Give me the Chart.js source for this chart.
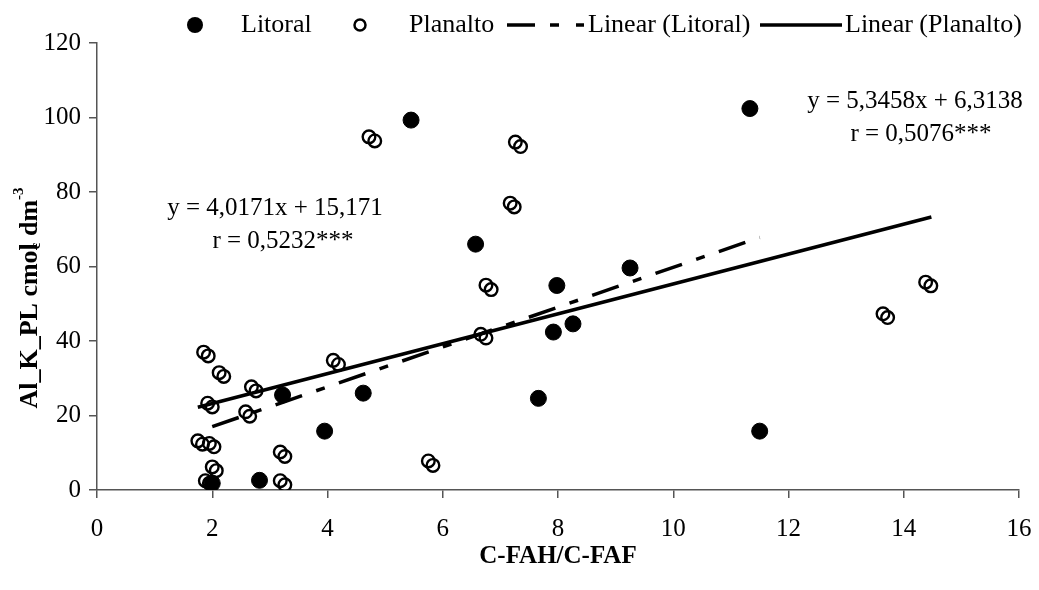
<!DOCTYPE html>
<html>
<head>
<meta charset="utf-8">
<script src="https://cdn.jsdelivr.net/npm/chart.js@4/dist/chart.umd.min.js"></script>
<style>
  html, body { margin: 0; padding: 0; background: #fff; }
  #wrap { width: 1039px; height: 590px; }
</style>
</head>
<body>
<div id="wrap"><canvas id="myChart" width="1039" height="590"></canvas></div>
<script>
// Litoral (filled points)
const litoralX = [2.0, 2.82, 3.22, 3.95, 4.62, 5.45, 6.57, 7.66, 7.92, 7.98, 8.26, 9.25, 11.33, 11.5];
const litoralY = [1.8, 2.6, 25.5, 15.8, 26, 99.3, 66, 24.6, 42.4, 54.9, 44.6, 59.6, 102.4, 15.8];

// Planalto (open points, they come in close pairs)
const planaltoX = [1.85, 1.93, 2.12, 2.2, 1.92, 2.0, 1.75, 1.83, 1.95, 2.03, 2.0, 2.07, 1.88, 1.95,
  2.58, 2.65, 2.68, 2.76, 3.18, 3.26, 3.18, 3.26, 4.1, 4.19, 4.72, 4.82, 5.75, 5.83,
  6.66, 6.75, 6.75, 6.84, 7.17, 7.24, 7.26, 7.35, 13.64, 13.72, 14.38, 14.47];
const planaltoY = [37, 36, 31.5, 30.5, 23.3, 22.3, 13.2, 12.3, 12.5, 11.6, 6.2, 5.2, 2.5, 1.8,
  21, 19.8, 27.7, 26.6, 10.2, 9, 2.5, 1.4, 34.8, 33.7, 94.8, 93.7, 7.8, 6.6,
  41.8, 40.8, 55, 53.8, 77, 76, 93.4, 92.2, 47.3, 46.3, 55.8, 54.8];

// trend line ends
const trendLitoralX = [2.0, 11.5];
const trendLitoralY = [17.0, 67.8];
const trendPlanaltoX = [1.75, 14.48];
const trendPlanaltoY = [22.2, 73.3];

const xTicks = [0, 2, 4, 6, 8, 10, 12, 14, 16];
const yTicks = [0, 20, 40, 60, 80, 100, 120];

const seriesNames = ['Litoral', 'Planalto', 'Linear (Litoral)', 'Linear (Planalto)'];
const eqLeft = ['y = 4,0171x + 15,171', 'r = 0,5232***'];
const eqRight = ['y = 5,3458x + 6,3138', 'r = 0,5076***'];

const pts = (xs, ys) => xs.map((x, i) => ({ x: x, y: ys[i] }));
const SERIF = '"Liberation Serif", "Times New Roman", serif';
const litDash = [28, 15, 9, 15];

// texts: legend, equations, y title
const extras = {
  id: 'extras',
  afterDraw(chart) {
    const ctx = chart.ctx;
    ctx.save();
    ctx.fillStyle = '#000';
    ctx.strokeStyle = '#000';
    ctx.textBaseline = 'middle';
    ctx.font = '26px ' + SERIF;

    // legend
    const ly = 25;
    ctx.beginPath(); ctx.arc(195, ly, 8, 0, Math.PI * 2); ctx.fill();
    ctx.textAlign = 'left';
    ctx.fillText(seriesNames[0], 241, ly);
    ctx.lineWidth = 2.5;
    ctx.beginPath(); ctx.arc(360, ly, 5.5, 0, Math.PI * 2); ctx.stroke();
    ctx.fillText(seriesNames[1], 409, ly);
    ctx.lineWidth = 3.5;
    ctx.setLineDash([28, 15, 9, 17]);
    ctx.beginPath(); ctx.moveTo(507, ly); ctx.lineTo(584, ly); ctx.stroke();
    ctx.setLineDash([]);
    ctx.fillText(seriesNames[2], 588, ly);
    ctx.beginPath(); ctx.moveTo(760, ly); ctx.lineTo(842, ly); ctx.stroke();
    ctx.fillText(seriesNames[3], 845, ly);

    // equations
    ctx.font = '25px ' + SERIF;
    ctx.textAlign = 'center';
    ctx.fillText(eqLeft[0], 275, 208);
    ctx.fillText(eqLeft[1], 283, 241);
    ctx.fillText(eqRight[0], 915, 101);
    ctx.fillText(eqRight[1], 921, 134);

    // y axis title with sub/superscript
    ctx.translate(30, 298);
    ctx.rotate(-Math.PI / 2);
    const bold = 'bold 26px ' + SERIF;
    const small = 'bold 15px ' + SERIF;
    const parts = [['Al_K_PL cmol', bold, 0], ['c', small, 6], [' dm', bold, 0], ['-3', small, -11]];
    let w = 0;
    parts.forEach(p => { ctx.font = p[1]; w += ctx.measureText(p[0]).width; });
    w -= 6;
    let x = -w / 2;
    ctx.textAlign = 'left';
    parts.forEach((p, i) => {
      ctx.font = p[1];
      let dx = (i === 1) ? -6 : 0;
      ctx.fillText(p[0], x + dx, p[2]);
      x += ctx.measureText(p[0]).width + dx;
    });
    ctx.restore();
  }
};

const axisColor = '#555';

const myChart = new Chart(document.getElementById('myChart'), {
  type: 'scatter',
  data: {
    datasets: [
      {
        label: seriesNames[2],
        type: 'line',
        data: pts(trendLitoralX, trendLitoralY),
        borderColor: '#000',
        borderWidth: 3.5,
        borderDash: litDash,
        pointRadius: 0,
        fill: false,
        order: 0
      },
      {
        label: seriesNames[3],
        type: 'line',
        data: pts(trendPlanaltoX, trendPlanaltoY),
        borderColor: '#000',
        borderWidth: 3.5,
        pointRadius: 0,
        fill: false,
        order: 0
      },
      {
        label: seriesNames[0],
        data: pts(litoralX, litoralY),
        backgroundColor: '#000',
        borderColor: '#000',
        borderWidth: 1,
        pointRadius: 8,
        order: 2
      },
      {
        label: seriesNames[1],
        data: pts(planaltoX, planaltoY),
        backgroundColor: 'rgba(0,0,0,0)',
        borderColor: '#000',
        borderWidth: 2.4,
        pointRadius: 6.3,
        order: 1
      }
    ]
  },
  options: {
    responsive: false,
    animation: false,
    events: [],
    layout: { padding: { top: 43, right: 20, left: 0, bottom: 0 } },
    plugins: {
      legend: { display: false },
      tooltip: { enabled: false }
    },
    scales: {
      x: {
        type: 'linear',
        min: 0,
        max: 16,
        afterFit(scale) { scale.height = 100; },
        afterBuildTicks(scale) { scale.ticks = xTicks.map(v => ({ value: v })); },
        ticks: {
          color: '#000',
          font: { family: SERIF, size: 25, lineHeight: 2.0 },
          padding: 6,
          maxRotation: 0
        },
        grid: { drawOnChartArea: false, drawTicks: true, tickLength: 8, color: axisColor, lineWidth: 1.5 },
        border: { display: true, color: axisColor, width: 1.5 },
        title: {
          display: true,
          text: 'C-FAH/C-FAF',
          color: '#000',
          font: { family: SERIF, size: 25, weight: 'bold' },
          padding: { top: 0, bottom: 18 }
        }
      },
      y: {
        type: 'linear',
        min: 0,
        max: 120,
        afterFit(scale) { scale.width = 97; },
        afterBuildTicks(scale) { scale.ticks = yTicks.map(v => ({ value: v })); },
        ticks: {
          color: '#000',
          font: { family: SERIF, size: 25 },
          padding: 8
        },
        grid: { drawOnChartArea: false, drawTicks: true, tickLength: 8, color: axisColor, lineWidth: 1.5 },
        border: { display: true, color: axisColor, width: 1.5 }
      }
    }
  },
  plugins: [extras]
});
</script>
</body>
</html>
